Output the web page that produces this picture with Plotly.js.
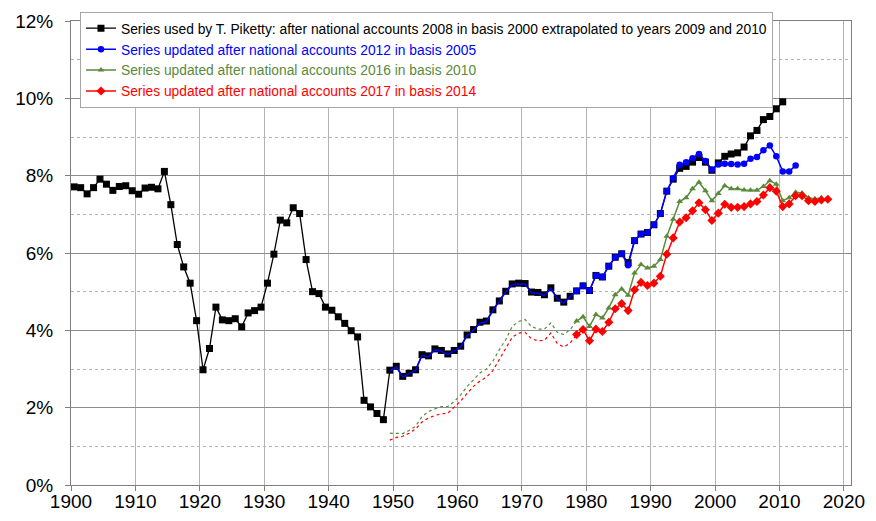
<!DOCTYPE html>
<html>
<head>
<meta charset="utf-8">
<script src="https://cdn.plot.ly/plotly-3.0.1.min.js"></script>
<style>html,body{margin:0;padding:0;background:#fff;}#chart{width:876px;height:521px;}</style>
</head>
<body>
<div id="chart"></div>
<script>
// Series used by T. Piketty, 1900-2010 (%)
const blackStart = 1900;
const blackValues = [
  7.71, 7.69, 7.53, 7.69, 7.91, 7.78, 7.62, 7.72, 7.74, 7.61,
  7.52, 7.68, 7.70, 7.66, 8.11, 7.25, 6.22, 5.64, 5.22, 4.25,
  2.98, 3.53, 4.60, 4.27, 4.25, 4.30, 4.09, 4.45, 4.51, 4.60,
  5.22, 5.97, 6.85, 6.78, 7.17, 7.02, 5.83, 5.00, 4.95, 4.60,
  4.52, 4.35, 4.18, 3.99, 3.83, 2.19, 2.02, 1.85, 1.69, 2.97,
  3.07, 2.81, 2.89, 2.98, 3.37, 3.34, 3.52, 3.48, 3.39, 3.48,
  3.59, 3.88, 4.02, 4.21, 4.24, 4.53, 4.76, 5.01, 5.20, 5.22,
  5.21, 4.99, 4.98, 4.92, 5.10, 4.83, 4.73, 4.88, 5.02, 5.15,
  5.03, 5.42, 5.38, 5.66, 5.89, 5.98, 5.75, 6.32, 6.49, 6.53,
  6.73, 7.02, 7.60, 7.91, 8.19, 8.24, 8.35, 8.47, 8.35, 8.14,
  8.33, 8.50, 8.56, 8.59, 8.74, 9.03, 9.17, 9.45, 9.53, 9.73,
  9.91
];
// Series updated after national accounts 2012 (basis 2005), 1949-2012
const blueStart = 1949;
const blueValues = [
  2.95,
  3.05, 2.79, 2.87, 2.96, 3.35, 3.32, 3.50, 3.46, 3.37, 3.46,
  3.57, 3.86, 4.00, 4.19, 4.22, 4.51, 4.74, 4.99, 5.18, 5.20,
  5.19, 4.97, 4.96, 4.90, 5.08, 4.81, 4.71, 4.86, 5.02, 5.15,
  5.03, 5.42, 5.38, 5.66, 5.89, 5.98, 5.68, 6.32, 6.49, 6.53,
  6.73, 7.02, 7.60, 7.93, 8.28, 8.35, 8.45, 8.56, 8.38, 8.16,
  8.29, 8.31, 8.30, 8.29, 8.31, 8.44, 8.48, 8.66, 8.78, 8.50,
  8.11, 8.11, 8.26
];
// Series updated after national accounts 2016 (basis 2010)
const greenEarlyStart = 1949;
const greenEarlyValues = [
  1.34,
  1.34, 1.33, 1.41, 1.52, 1.77, 1.90, 1.97, 2.03, 2.03, 2.16,
  2.33, 2.55, 2.72, 2.90, 3.00, 3.20, 3.50, 3.76, 4.10, 4.23,
  4.28, 4.10, 4.03, 4.03, 4.19, 3.95, 3.89, 4.02
];
const greenStart = 1978;
const greenValues = [
  4.24, 4.35,
  4.10, 4.41, 4.32, 4.58, 4.92, 5.07, 4.91, 5.48, 5.70, 5.61,
  5.66, 5.83, 6.43, 6.87, 7.33, 7.43, 7.66, 7.83, 7.61, 7.35,
  7.54, 7.74, 7.66, 7.66, 7.63, 7.62, 7.62, 7.72, 7.87, 7.78,
  7.35, 7.43, 7.57, 7.55, 7.43, 7.40, 7.43
];
// Series updated after national accounts 2017 (basis 2014)
const redEarlyStart = 1949;
const redEarlyValues = [
  1.16,
  1.23, 1.26, 1.34, 1.45, 1.63, 1.73, 1.80, 1.84, 1.86, 2.01,
  2.17, 2.37, 2.55, 2.69, 2.79, 2.96, 3.24, 3.52, 3.82, 3.93,
  3.95, 3.78, 3.73, 3.74, 3.93, 3.66, 3.57, 3.67
];
const redStart = 1978;
const redValues = [
  3.89, 4.02,
  3.73, 4.03, 3.97, 4.21, 4.56, 4.69, 4.51, 5.05, 5.24, 5.16,
  5.22, 5.40, 5.97, 6.39, 6.80, 6.91, 7.09, 7.30, 7.12, 6.84,
  7.03, 7.26, 7.18, 7.18, 7.20, 7.27, 7.33, 7.50, 7.69, 7.60,
  7.20, 7.27, 7.48, 7.48, 7.35, 7.33, 7.37, 7.39
];
const seriesNames = [
  "Series used by T. Piketty: after national accounts 2008 in basis 2000 extrapolated to years 2009 and 2010",
  "Series updated after national accounts 2012 in basis 2005",
  "Series updated after national accounts 2016 in basis 2010",
  "Series updated after national accounts 2017 in basis 2014"
];
const xTickYears = [1900,1910,1920,1930,1940,1950,1960,1970,1980,1990,2000,2010,2020];
const firstMarkedYear = 1978; // the updated series show markers from this year on

const COL = {black:'#000000', blue:'#0000FF', green:'#5A8A3A', red:'#FF0000'};
// points are drawn at mid-year
const yrs = (start, n) => Array.from({length:n}, (_, i) => start + i + 0.5);
const FONT = 'Liberation Sans, Arial, sans-serif';

const blueSplit = firstMarkedYear - blueStart;
const blueX = yrs(blueStart, blueValues.length);

const traces = [];
traces.push({
  x: yrs(greenEarlyStart, greenEarlyValues.length + 1),
  y: greenEarlyValues.concat([greenValues[0]]),
  mode:'lines', line:{color:COL.green, width:1.2, dash:'dot'}, showlegend:false, hoverinfo:'skip'
});
traces.push({
  x: yrs(redEarlyStart, redEarlyValues.length + 1),
  y: redEarlyValues.concat([redValues[0]]),
  mode:'lines', line:{color:COL.red, width:1.2, dash:'dot'}, showlegend:false, hoverinfo:'skip'
});
traces.push({
  x: yrs(blackStart, blackValues.length), y: blackValues,
  mode:'lines+markers', name:'<span style="color:#000000">'+seriesNames[0]+'</span>',
  line:{color:COL.black, width:1.3}, marker:{symbol:'square', size:7, color:COL.black}
});
// blue: plain line before 1978, then line with markers
traces.push({
  x: blueX.slice(0, blueSplit + 1), y: blueValues.slice(0, blueSplit + 1),
  mode:'lines', line:{color:COL.blue, width:1.5}, showlegend:false, hoverinfo:'skip'
});
traces.push({
  x: blueX.slice(blueSplit), y: blueValues.slice(blueSplit),
  mode:'lines+markers', name:'<span style="color:#0000FF">'+seriesNames[1]+'</span>',
  line:{color:COL.blue, width:1.5}, marker:{symbol:'circle', size:6.5, color:COL.blue}
});
traces.push({
  x: yrs(greenStart, greenValues.length), y: greenValues,
  mode:'lines+markers', name:'<span style="color:#5A8A3A">'+seriesNames[2]+'</span>',
  line:{color:COL.green, width:1.5}, marker:{symbol:'triangle-up', size:6, color:COL.green}
});
traces.push({
  x: yrs(redStart, redValues.length), y: redValues,
  mode:'lines+markers', name:'<span style="color:#FF0000">'+seriesNames[3]+'</span>',
  line:{color:COL.red, width:1.5}, marker:{symbol:'diamond', size:7, color:COL.red}
});

const layout = {
  width:876, height:521,
  margin:{l:71, r:25, t:21, b:36},
  paper_bgcolor:'#ffffff', plot_bgcolor:'#ffffff',
  font:{family:FONT, color:'#000'},
  showlegend:true,
  legend:{
    x:0.0115, y:1.02, xanchor:'left', yanchor:'top',
    bgcolor:'#ffffff', bordercolor:'#a6a6a6', borderwidth:1,
    font:{size:13.8, family:FONT},
    tracegroupgap:0, itemwidth:30
  },
  xaxis:{
    range:[1900, 2021.1], tickmode:'array', tickvals:xTickYears, ticktext:xTickYears.map(String),
    showgrid:true, gridcolor:'#b4b4b4', gridwidth:1,
    showline:true, linecolor:'#7f7f7f', linewidth:1, mirror:true,
    ticks:'outside', ticklen:5, tickcolor:'#7f7f7f',
    ticklabelstandoff:-6,
    tickfont:{size:19, family:FONT},
    zeroline:false
  },
  yaxis:{
    range:[0, 12], tickmode:'linear', tick0:0, dtick:2, ticksuffix:'%',
    showgrid:true, gridcolor:'#8c8c8c', gridwidth:1,
    minor:{dtick:1, showgrid:true, gridcolor:'#b4b4b4', griddash:'dot', gridwidth:1},
    showline:true, linecolor:'#7f7f7f', linewidth:1, mirror:true,
    ticks:'outside', ticklen:5, tickcolor:'#7f7f7f',
    ticklabelstandoff:8,
    tickfont:{size:19, family:FONT},
    zeroline:false
  }
};

Plotly.newPlot('chart', traces, layout, {displayModeBar:false, staticPlot:true});
</script>
</body>
</html>
